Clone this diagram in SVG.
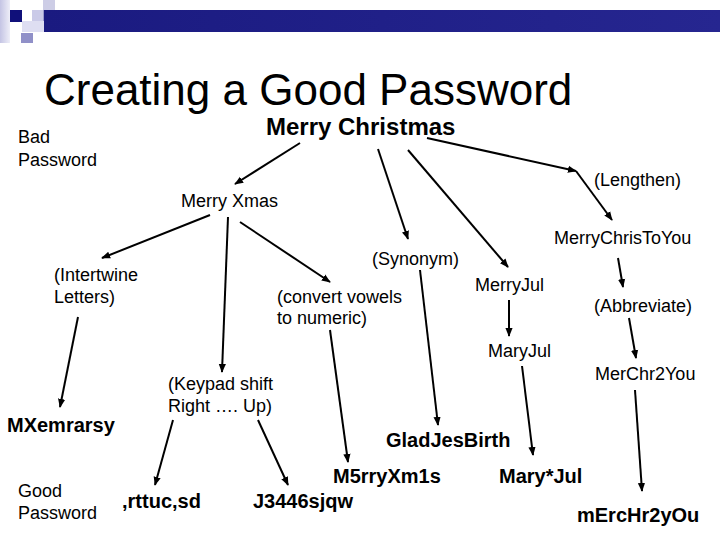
<svg xmlns="http://www.w3.org/2000/svg" width="720" height="540" viewBox="0 0 720 540">
<style>
text{font-family:"Liberation Sans",Arial,sans-serif;fill:#000}
.r{font-size:18px}
.b{font-size:20px;font-weight:bold}
.t{font-size:44px}
.h{font-size:24px;font-weight:bold}
#connectors line{stroke:#000;stroke-width:2;marker-end:url(#ah)}
</style>
<defs>
<marker id="ah" viewBox="0 0 10 8" refX="9" refY="4" markerWidth="9" markerHeight="8" markerUnits="userSpaceOnUse" orient="auto">
<path d="M0,0 L10,4 L0,8 z" fill="#000"/>
</marker>
<linearGradient id="bar" x1="0" y1="0" x2="1" y2="0">
<stop offset="0" stop-color="#1a1a80"/>
<stop offset="1" stop-color="#262690"/>
</linearGradient>
<linearGradient id="fade" x1="0" y1="0" x2="1" y2="0">
<stop offset="0" stop-color="#c4c4e4"/>
<stop offset="1" stop-color="#eeeef8"/>
</linearGradient>
</defs>
<rect width="720" height="540" fill="#fff"/>
<g id="logo">
<rect x="0" y="0" width="10" height="43" fill="url(#fade)"/>
<rect x="10" y="10" width="12" height="12" fill="#10107a"/>
<rect x="32" y="10" width="12" height="11" fill="#cacae8"/>
<rect x="43" y="0" width="12" height="10" fill="#cdcde6"/>
<rect x="43" y="10" width="12" height="11" fill="#9a9acc"/>
<rect x="22" y="21" width="22" height="11" fill="#dedef2"/>
<rect x="21" y="33" width="12" height="10" fill="#9090c8"/>
<rect x="44" y="10" width="676" height="22" fill="url(#bar)"/>
</g>
<g id="title"><text class="t" x="44" y="105">Creating a Good Password</text></g>
<g id="bad"><text class="r" x="18" y="143">Bad</text><text class="r" x="18" y="166">Password</text></g>
<g id="good"><text class="r" x="18" y="497">Good</text><text class="r" x="18" y="519">Password</text></g>
<g id="n-merry-christmas"><text class="h" x="266" y="135">Merry Christmas</text></g>
<g id="n-merry-xmas"><text class="r" x="181" y="207">Merry Xmas</text></g>
<g id="n-lengthen"><text class="r" x="594" y="186">(Lengthen)</text></g>
<g id="n-merrychristoyou"><text class="r" x="554" y="244">MerryChrisToYou</text></g>
<g id="n-intertwine"><text class="r" x="54" y="281">(Intertwine</text><text class="r" x="54" y="303">Letters)</text></g>
<g id="n-convert"><text class="r" x="277" y="303">(convert vowels</text><text class="r" x="277" y="324">to numeric)</text></g>
<g id="n-synonym"><text class="r" x="372" y="265">(Synonym)</text></g>
<g id="n-merryjul"><text class="r" x="475" y="291">MerryJul</text></g>
<g id="n-abbreviate"><text class="r" x="594" y="312">(Abbreviate)</text></g>
<g id="n-maryjul"><text class="r" x="488" y="357">MaryJul</text></g>
<g id="n-merchr2you"><text class="r" x="595" y="380">MerChr2You</text></g>
<g id="n-keypad"><text class="r" x="168" y="390">(Keypad shift</text><text class="r" x="168" y="412">Right …. Up)</text></g>
<g id="n-mxemrarsy"><text class="b" x="7" y="432">MXemrarsy</text></g>
<g id="n-gladjesbirth"><text class="b" x="386" y="447">GladJesBirth</text></g>
<g id="n-m5rryxm1s"><text class="b" x="333" y="483">M5rryXm1s</text></g>
<g id="n-maryjul2"><text class="b" x="499" y="483">Mary*Jul</text></g>
<g id="n-rttuc"><text class="b" x="122" y="508">,rttuc,sd</text></g>
<g id="n-j3446"><text class="b" x="253" y="508">J3446sjqw</text></g>
<g id="n-merchr2you2"><text class="b" x="577" y="522">mErcHr2yOu</text></g>
<g id="connectors">
<line x1="300" y1="143" x2="235" y2="184"/>
<line x1="378" y1="149" x2="408" y2="239"/>
<line x1="408" y1="150" x2="508" y2="267"/>
<line x1="427" y1="138" x2="576" y2="171"/>
<line x1="576" y1="171" x2="612" y2="220"/>
<line x1="210" y1="215" x2="102" y2="258"/>
<line x1="228" y1="217" x2="222" y2="372"/>
<line x1="240" y1="222" x2="330" y2="282"/>
<line x1="78" y1="317" x2="60" y2="407"/>
<line x1="330" y1="330" x2="348" y2="462"/>
<line x1="420" y1="270" x2="438" y2="425"/>
<line x1="509" y1="300" x2="509" y2="336"/>
<line x1="522" y1="366" x2="533" y2="455"/>
<line x1="618" y1="258" x2="623" y2="287"/>
<line x1="629" y1="318" x2="636" y2="358"/>
<line x1="635" y1="390" x2="642" y2="491"/>
<line x1="173" y1="420" x2="155" y2="485"/>
<line x1="258" y1="420" x2="288" y2="485"/>
</g>
</svg>
